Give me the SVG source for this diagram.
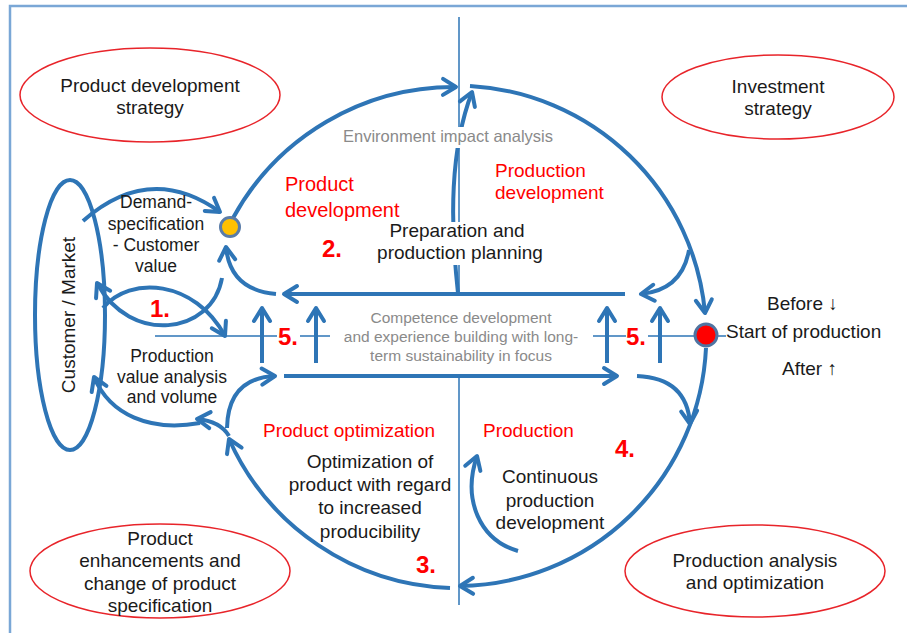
<svg xmlns="http://www.w3.org/2000/svg" width="907" height="633" viewBox="0 0 907 633">
<defs>
<marker id="arr" viewBox="-16 -11 19 22" markerUnits="userSpaceOnUse" markerWidth="19" markerHeight="22" refX="0" refY="0" orient="auto">
<path d="M-13,-8 L0,0 L-13,8" fill="none" stroke="#2e75b6" stroke-width="4" stroke-linecap="round" stroke-linejoin="round"/>
</marker>
</defs>
<style>
.t{font-family:"Liberation Sans",Arial,sans-serif;fill:#1a1a1a;}
.s19{font-size:19px;}
.s175{font-size:17.5px;}
.red{font-family:"Liberation Sans",Arial,sans-serif;fill:#ff0000;font-size:19px;}
.num{font-family:"Liberation Sans",Arial,sans-serif;fill:#ff0000;font-size:24px;font-weight:bold;}
.gray{font-family:"Liberation Sans",Arial,sans-serif;fill:#8a8a8a;}
.m{text-anchor:middle;}
.ell{fill:#ffffff;stroke:#e8242a;stroke-width:1.5;}
.c{fill:none;stroke:#2e75b6;stroke-width:4;}
.ca{fill:none;stroke:#2e75b6;stroke-width:4;marker-end:url(#arr);}
.thin{fill:none;stroke:#2e75b6;stroke-width:1.5;}
</style>
<rect width="907" height="633" fill="#ffffff"/>
<path d="M10,633 L10,6 L907,6" fill="none" stroke="#7aa7d6" stroke-width="2.5"/>

<g id="guides">
<path class="thin" d="M459,17 L459,296 M459,376 L459,605"/>
<path class="thin" d="M155,336 L277,336 M300,336 L330,336 M593,336 L626,336 M648,336 L726,336"/>
</g>

<g id="connectors">
<path class="ca" d="M233,218 A252 252 0 0 1 456,87"/>
<path class="ca" d="M470,86 A250 250 0 0 1 705,313"/>
<path class="ca" d="M706,348 A250 250 0 0 1 460,586"/>
<path class="ca" d="M450,588 A252 252 0 0 1 229,439"/>
<path class="ca" d="M458,293 C450,220 450,150 472,92"/>
<path class="ca" d="M689,250 Q682,290 641,294"/>
<path class="ca" d="M625,294 L284,294"/>
<path class="ca" d="M276,294 Q230,290 226,247"/>
<path class="ca" d="M284,376 L617,376"/>
<path class="ca" d="M227,428 Q228,378 275,376"/>
<path class="ca" d="M637,376 Q687,378 690,424"/>
<path class="ca" d="M262,363 L262,308"/>
<path class="ca" d="M316,363 L316,308"/>
<path class="ca" d="M607,363 L607,308"/>
<path class="ca" d="M660,363 L660,308"/>
<path class="ca" d="M83,221 Q150,162 220,212"/>
<path class="ca" d="M222,278 C212,335 130,345 97,283"/>
<path class="ca" d="M103,308 C130,275 195,280 225,336"/>
<path class="ca" d="M229,436 Q220,421 197,419"/>
<path class="ca" d="M200,423 C150,432 110,415 94,377"/>
<path class="ca" d="M518,551 C480,540 462,500 477,456"/>
</g>

<g id="customer-market">
<ellipse cx="70" cy="315" rx="35" ry="135" class="c"/>
<text class="t s19 m" transform="translate(75,315) rotate(-90)">Customer / Market</text>
</g>

<g id="strategy-product-development">
<ellipse cx="150" cy="95" rx="130" ry="47" class="ell"/>
<text class="t s19 m" x="150" y="92">Product development</text>
<text class="t s19 m" x="150" y="114">strategy</text>
</g>

<g id="strategy-investment">
<ellipse cx="778" cy="97" rx="116" ry="42" class="ell"/>
<text class="t s19 m" x="778" y="93">Investment</text>
<text class="t s19 m" x="778" y="115">strategy</text>
</g>

<g id="product-enhancements">
<ellipse cx="160" cy="571" rx="130" ry="47" class="ell"/>
<text class="t s19 m" x="160" y="545">Product</text>
<text class="t s19 m" x="160" y="567">enhancements and</text>
<text class="t s19 m" x="160" y="590">change of product</text>
<text class="t s19 m" x="160" y="612">specification</text>
</g>

<g id="production-analysis">
<ellipse cx="755" cy="571" rx="130" ry="46" class="ell"/>
<text class="t s19 m" x="755" y="567">Production analysis</text>
<text class="t s19 m" x="755" y="589">and optimization</text>
</g>

<g id="milestone-start">
<circle cx="230" cy="227" r="9.5" fill="#ffc000" stroke="#5a7ca8" stroke-width="3"/>
</g>

<g id="start-of-production">
<circle cx="706" cy="335" r="11" fill="#ff0000" stroke="#4f74a2" stroke-width="3"/>
<text class="t s19" x="767" y="310">Before ↓</text>
<text class="t s19" x="726" y="338">Start of production</text>
<text class="t s19" x="782" y="375">After ↑</text>
</g>

<g id="labels">
<rect x="338" y="127" width="220" height="21" fill="#ffffff"/>
<text class="gray m" style="font-size:16.5px" x="448" y="142">Environment impact analysis</text>

<rect x="372" y="222" width="176" height="43" fill="#ffffff"/>
<text class="t s19 m" x="457" y="237">Preparation and</text>
<text class="t s19 m" x="460" y="259">production planning</text>

<text class="t s175 m" x="156" y="208">Demand-</text>
<text class="t s175 m" x="156" y="230">specification</text>
<text class="t s175 m" x="156" y="251">- Customer</text>
<text class="t s175 m" x="156" y="272">value</text>

<text class="t s175 m" x="172" y="362">Production</text>
<text class="t s175 m" x="172" y="383">value analysis</text>
<text class="t s175 m" x="172" y="403">and volume</text>

<text class="gray m" style="font-size:15.5px" x="461" y="323">Competence development</text>
<text class="gray m" style="font-size:15.5px" x="461" y="342">and experience building with long-</text>
<text class="gray m" style="font-size:15.5px" x="461" y="361">term sustainability in focus</text>

<text class="t s19 m" x="370" y="468">Optimization of</text>
<text class="t s19 m" x="370" y="491">product with regard</text>
<text class="t s19 m" x="370" y="514">to increased</text>
<text class="t s19 m" x="370" y="538">producibility</text>

<text class="t s19 m" x="550" y="483">Continuous</text>
<text class="t s19 m" x="550" y="507">production</text>
<text class="t s19 m" x="550" y="529">development</text>

<text class="red" style="font-size:20px" x="285" y="191">Product</text>
<text class="red" style="font-size:20px" x="285" y="217">development</text>
<text class="red" x="495" y="177">Production</text>
<text class="red" x="495" y="199">development</text>
<text class="red" x="263" y="437">Product optimization</text>
<text class="red" x="483" y="437">Production</text>

<text class="num" x="150" y="317">1.</text>
<text class="num" x="322" y="257">2.</text>
<text class="num" x="416" y="573">3.</text>
<text class="num" x="615" y="457">4.</text>
<text class="num" x="278" y="345">5.</text>
<text class="num" x="626" y="345">5.</text>
</g>
</svg>
